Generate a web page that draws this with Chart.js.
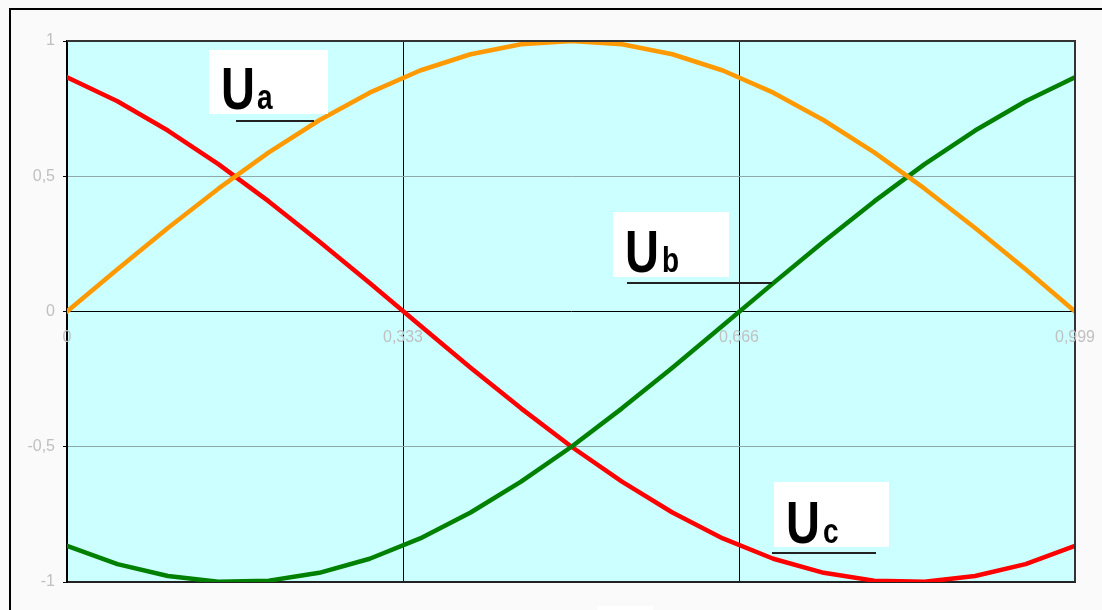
<!DOCTYPE html>
<html>
<head>
<meta charset="utf-8">
<script src="https://cdn.jsdelivr.net/npm/chart.js@4"></script>
<style>
  html, body { margin: 0; padding: 0; background: #fafafa; }
  #wrap { width: 1102px; height: 610px; position: relative; }
</style>
</head>
<body>
<div id="wrap"><canvas id="myChart" width="1102" height="610"></canvas></div>
<script>
// x positions of the points (21 points)
const xVals = [0, 0.05, 0.1, 0.15, 0.2, 0.25, 0.3, 0.35, 0.4, 0.45, 0.5,
               0.55, 0.6, 0.65, 0.7, 0.75, 0.8, 0.85, 0.9, 0.95, 0.999];

// Ua - orange
const uaVals = [0, 0.156, 0.309, 0.454, 0.588, 0.707, 0.809, 0.891, 0.951, 0.988, 1,
                0.988, 0.951, 0.891, 0.809, 0.707, 0.588, 0.454, 0.309, 0.156, 0];
// Uc - red
const ucVals = [0.866, 0.777, 0.669, 0.545, 0.407, 0.259, 0.105, -0.052, -0.208, -0.358, -0.5,
                -0.629, -0.743, -0.839, -0.914, -0.966, -0.995, -0.999, -0.978, -0.934, -0.866];
// Ub - green
const ubVals = [-0.866, -0.934, -0.978, -0.999, -0.995, -0.966, -0.914, -0.839, -0.743, -0.629, -0.5,
                -0.358, -0.208, -0.052, 0.105, 0.259, 0.407, 0.545, 0.669, 0.777, 0.866];

const xTicks = [0, 0.333, 0.666, 0.999];
const yTicks = [-1, -0.5, 0, 0.5, 1];

function toPoints(ys) {
    return ys.map(function (y, i) { return { x: xVals[i], y: y }; });
}
function fmt(v) {
    return String(v).replace('.', ',');
}

// plot background, frame, x labels on zero line, text boxes
const decor = {
    id: 'decor',
    beforeDraw: function (chart) {
        const ctx = chart.ctx;
        const a = chart.chartArea;
        ctx.save();
        ctx.fillStyle = '#fafafa';
        ctx.fillRect(0, 0, chart.width, chart.height);
        ctx.strokeStyle = '#000';
        ctx.lineWidth = 2;
        ctx.strokeRect(10, 9, 1300, 800);
        ctx.fillStyle = '#ccffff';
        ctx.fillRect(a.left, a.top, a.right - a.left, a.bottom - a.top);
        ctx.restore();
    },
    afterDatasetsDraw: function (chart) {
        const ctx = chart.ctx;
        const a = chart.chartArea;
        const xs = chart.scales.x;
        const ys = chart.scales.y;
        ctx.save();
        // top and right borders
        ctx.strokeStyle = '#333';
        ctx.lineWidth = 2;
        ctx.beginPath();
        ctx.moveTo(a.left, a.top);
        ctx.lineTo(a.right, a.top);
        ctx.lineTo(a.right, a.bottom);
        ctx.stroke();

        // x labels just below the zero line
        ctx.fillStyle = '#c0c0c0';
        ctx.font = '16px Arial, sans-serif';
        ctx.textAlign = 'center';
        ctx.textBaseline = 'top';
        const y0 = ys.getPixelForValue(0);
        xTicks.forEach(function (t) {
            ctx.fillText(fmt(t), xs.getPixelForValue(t), y0 + 18);
        });

        drawLabel(ctx, 209, 50, 119, 64, 221, 109, 'a', 257, 236, 314, 121);
        drawLabel(ctx, 613, 212, 116, 65, 625, 272, 'b', 662, 627, 772, 283);
        drawLabel(ctx, 774, 482, 115, 65, 786, 543, 'c', 823, 772, 876, 553);

        // small white box at the bottom edge
        ctx.fillStyle = '#fff';
        ctx.fillRect(597, 606, 56, 10);
        ctx.restore();
    }
};

function drawLabel(ctx, bx, by, bw, bh, ux, base, sub, sx, l1, l2, ly) {
    ctx.fillStyle = '#fff';
    ctx.fillRect(bx, by, bw, bh);
    ctx.fillStyle = '#000';
    ctx.textAlign = 'left';
    ctx.textBaseline = 'alphabetic';
    ctx.save();
    ctx.translate(ux, base);
    ctx.scale(1, 1.25);
    ctx.font = 'bold 47px Arial, sans-serif';
    ctx.fillText('U', 0, 0);
    ctx.restore();
    ctx.save();
    ctx.translate(sx, base);
    ctx.scale(1, 1.28);
    ctx.font = 'bold 28px Arial, sans-serif';
    ctx.fillText(sub, 0, 0);
    ctx.restore();
    ctx.strokeStyle = '#222';
    ctx.lineWidth = 2;
    ctx.beginPath();
    ctx.moveTo(l1, ly);
    ctx.lineTo(l2, ly);
    ctx.stroke();
}

const data = {
    datasets: [
        { label: 'Ua', data: toPoints(uaVals), borderColor: '#ff9900' },
        { label: 'Ub', data: toPoints(ubVals), borderColor: '#008000' },
        { label: 'Uc', data: toPoints(ucVals), borderColor: '#ff0000' }
    ]
};

const config = {
    type: 'line',
    data: data,
    options: {
        responsive: false,
        animation: false,
        layout: { padding: { top: 41, right: 27, bottom: 28, left: 0 } },
        elements: {
            line: { borderWidth: 4.5, tension: 0, borderCapStyle: 'round', borderJoinStyle: 'round' },
            point: { radius: 0 }
        },
        plugins: {
            legend: { display: false },
            tooltip: { enabled: false }
        },
        scales: {
            x: {
                type: 'linear',
                min: 0,
                max: 0.999,
                afterBuildTicks: function (scale) {
                    scale.ticks = xTicks.map(function (v) { return { value: v }; });
                },
                afterFit: function (scale) { scale.height = 0; },
                ticks: { display: false },
                grid: { color: '#000', lineWidth: 1, drawTicks: false },
                border: { color: '#222', width: 2 }
            },
            y: {
                min: -1,
                max: 1,
                afterBuildTicks: function (scale) {
                    scale.ticks = yTicks.map(function (v) { return { value: v }; });
                },
                afterFit: function (scale) { scale.width = 67; },
                ticks: {
                    color: '#c0c0c0',
                    padding: 8,
                    font: { family: 'Arial, sans-serif', size: 16 },
                    callback: function (v) { return fmt(v); }
                },
                grid: {
                    tickLength: 4,
                    color: function (c) {
                        if (c.tick && Math.abs(c.tick.value) === 0.5) return '#8fa8a8';
                        return '#000';
                    },
                    tickColor: '#000',
                    lineWidth: 1
                },
                border: { color: '#000', width: 2 }
            }
        }
    },
    plugins: [decor]
};

var myChart = new Chart(document.getElementById('myChart'), config);
</script>
</body>
</html>
